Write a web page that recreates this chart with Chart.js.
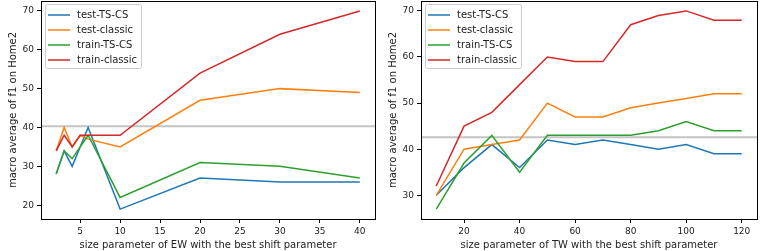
<!DOCTYPE html>
<html>
<head>
<meta charset="utf-8">
<script src="https://cdn.jsdelivr.net/npm/chart.js@4.4.1/dist/chart.umd.min.js"></script>
<style>
  body { margin: 0; background: #fff; }
  canvas { position: absolute; top: 0; }
</style>
</head>
<body>
<canvas id="chartEW" width="381" height="251" style="left:0"></canvas>
<canvas id="chartTW" width="381" height="251" style="left:381px"></canvas>
<script>
// series names (same for both panels)
const seriesNames = ['test-TS-CS', 'test-classic', 'train-TS-CS', 'train-classic'];
const seriesColors = ['#1f77b4', '#ff7f0e', '#2ca02c', '#d62728'];

// left panel: EW size parameter
const ewSizes = [2, 3, 4, 5, 6, 10, 20, 30, 40];
const ewTestTSCS = [28, 34, 30, 35, 40, 19, 27, 26, 26];
const ewTestClassic = [34, 40, 35, 38, 37, 35, 47, 50, 49];
const ewTrainTSCS = [28, 34, 32, 35, 38, 22, 31, 30, 27];
const ewTrainClassic = [34, 38, 35, 38, 38, 38, 54, 64, 70];
const ewBaseline = 40.3;
const ewXTicks = [5, 10, 15, 20, 25, 30, 35, 40];
const ewYTicks = [20, 30, 40, 50, 60, 70];

// right panel: TW size parameter
const twSizes = [10, 20, 30, 40, 50, 60, 70, 80, 90, 100, 110, 120];
const twTestTSCS = [30, 36, 41, 36, 42, 41, 42, 41, 40, 41, 39, 39];
const twTestClassic = [30, 40, 41, 42, 50, 47, 47, 49, 50, 51, 52, 52];
const twTrainTSCS = [27, 37, 43, 35, 43, 43, 43, 43, 44, 46, 44, 44];
const twTrainClassic = [32, 45, 48, 54, 60, 59, 59, 67, 69, 70, 68, 68];
const twBaseline = 42.6;
const twXTicks = [20, 40, 60, 80, 100, 120];
const twYTicks = [30, 40, 50, 60, 70];

const FAMILY = 'DejaVu Sans';
Chart.defaults.font.family = FAMILY;
Chart.defaults.font.size = 9;
Chart.defaults.color = '#222';

// frame around the plot area + legend box in the upper left corner
const framePlugin = {
  id: 'frame',
  afterDraw(chart) {
    const { ctx, chartArea: a } = chart;
    ctx.save();
    ctx.strokeStyle = '#000';
    ctx.lineWidth = 1;
    ctx.strokeRect(Math.round(a.left) + 0.5, Math.round(a.top) + 0.5,
      Math.round(a.right - a.left), Math.round(a.bottom - a.top));

    const w = chart.options.plugins.frame.legendWidth;
    const x0 = Math.round(a.left) + 4, y0 = Math.round(a.top) + 3;
    ctx.fillStyle = 'rgba(255,255,255,0.8)';
    ctx.strokeStyle = '#cccccc';
    ctx.beginPath();
    ctx.roundRect(x0 + 0.5, y0 + 0.5, w, 64, 2);
    ctx.fill();
    ctx.stroke();
    ctx.font = '10px ' + FAMILY;
    ctx.textBaseline = 'middle';
    chart.data.datasets.slice(0, 4).forEach((ds, i) => {
      const y = y0 + 11 + i * 15;
      ctx.strokeStyle = ds.borderColor;
      ctx.lineWidth = 1.5;
      ctx.beginPath();
      ctx.moveTo(x0 + 3, y);
      ctx.lineTo(x0 + 25, y);
      ctx.stroke();
      ctx.fillStyle = '#222';
      ctx.fillText(ds.label, x0 + 32, y + 0.5);
    });
    ctx.restore();
  }
};

function makeChart(id, xs, series, baseline, xMin, xMax, yMin, yMax, xTicks, yTicks, xTitle, pad, legendWidth) {
  const datasets = series.map((vals, i) => ({
    label: seriesNames[i],
    data: xs.map((x, j) => ({ x: x, y: vals[j] })),
    borderColor: seriesColors[i],
    borderWidth: 1.5,
    pointRadius: 0,
    tension: 0,
    order: 4 - i
  }));
  datasets.push({
    label: 'baseline',
    data: [{ x: xMin, y: baseline }, { x: xMax, y: baseline }],
    borderColor: '#c4c4c4',
    borderWidth: 2,
    pointRadius: 0,
    order: 10
  });

  return new Chart(document.getElementById(id), {
    type: 'line',
    data: { datasets: datasets },
    plugins: [framePlugin],
    options: {
      responsive: false,
      animation: false,
      devicePixelRatio: 1,
      layout: { padding: pad },
      plugins: {
        legend: { display: false },
        tooltip: { enabled: false },
        frame: { legendWidth: legendWidth }
      },
      scales: {
        x: {
          type: 'linear',
          min: xMin, max: xMax,
          afterBuildTicks: s => { s.ticks = xTicks.map(v => ({ value: v })); },
          afterFit: s => { s.height = 32; s.paddingLeft = 0; s.paddingRight = 0; },
          grid: { drawOnChartArea: false, drawTicks: true, tickLength: 4, color: '#000' },
          border: { display: true, color: '#000' },
          ticks: { padding: 3, maxRotation: 0 },
          title: { display: true, text: xTitle, font: { size: 10 }, padding: { top: 0, bottom: 0 } }
        },
        y: {
          min: yMin, max: yMax,
          afterBuildTicks: s => { s.ticks = yTicks.map(v => ({ value: v })); },
          afterFit: s => { s.width = 40; s.paddingTop = 0; s.paddingBottom = 0; },
          grid: { drawOnChartArea: false, drawTicks: true, tickLength: 4, color: '#000' },
          border: { display: true, color: '#000' },
          ticks: { padding: 3 },
          title: { display: true, text: 'macro average of f1 on Home2', font: { size: 10 }, padding: { top: 6, bottom: 0 } }
        }
      }
    }
  });
}

makeChart('chartEW', ewSizes,
  [ewTestTSCS, ewTestClassic, ewTrainTSCS, ewTrainClassic], ewBaseline,
  0.1, 41.9, 16.45, 72.55, ewXTicks, ewYTicks,
  'size parameter of EW with the best shift parameter',
  { left: 1, right: 6, top: 1, bottom: 0 }, 96);

makeChart('chartTW', twSizes,
  [twTestTSCS, twTestClassic, twTrainTSCS, twTrainClassic], twBaseline,
  4.5, 125.5, 24.85, 72.15, twXTicks, twYTicks,
  'size parameter of TW with the best shift parameter',
  { left: 0, right: 5, top: 1, bottom: 0 }, 96);
</script>
</body>
</html>
